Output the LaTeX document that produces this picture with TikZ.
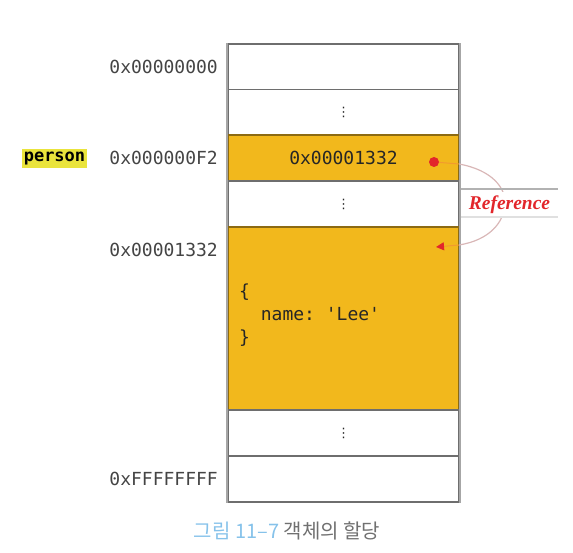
\documentclass[tikz,border=0pt]{standalone}
\usepackage{fontspec}
\setmonofont{DejaVu Sans Mono}
\newfontfamily\krfont{Noto Sans CJK KR}
\newfontfamily\reffont{Liberation Serif}
\newfontfamily\symfont{DejaVu Sans}
\usetikzlibrary{arrows.meta}
\definecolor{gold}{HTML}{F2B81C}
\definecolor{goldedge}{HTML}{8C6A12}
\definecolor{celledge}{HTML}{6E6E6E}
\definecolor{sideedge}{HTML}{A6A6A6}
\definecolor{addr}{HTML}{444444}
\definecolor{hl}{HTML}{EAE43C}
\definecolor{refred}{HTML}{E2262B}
\definecolor{linkorange}{HTML}{F29A2E}
\definecolor{linkpink}{HTML}{D9B7B7}
\definecolor{capblue}{HTML}{86C2EA}
\definecolor{capgray}{HTML}{707070}
\tikzset{
  mono/.style={font=\ttfamily\fontsize{18}{23}\selectfont},
  cellw/.style={draw=celledge, line width=1.6pt, fill=white, minimum width=231pt, minimum height=46pt, inner sep=0pt, mono},
  cellg/.style={draw=goldedge, line width=1.6pt, fill=gold, minimum width=231pt, minimum height=46pt, inner sep=0pt, mono, text=black!85},
  addrlabel/.style={anchor=east, mono, text=addr, inner sep=0pt},
  side/.style={draw=sideedge, line width=2pt},
  link/.style={draw=linkorange, line width=1pt},
  curve/.style={draw=linkpink, line width=1.2pt},
  reflines/.style={line width=1.5pt},
  dots/.style={font=\symfont\fontsize{13}{13}\selectfont, text=black!85},
}
\begin{document}
\begin{tikzpicture}[x=1pt,y=-1pt]
\useasboundingbox (0,0) rectangle (573,553);
% memory cells
\node[cellw] (r0) at (343.5,67) {};
\node[cellw, dots] (r1) at (343.5,112.5) {⋮};
\node[cellg] (r2) at (343.5,158) {0x00001332};
\node[cellw, dots] (r3) at (343.5,204) {⋮};
\node[cellg, minimum height=183pt] (obj) at (343.5,318.5) {};
\node[cellw, dots] (r5) at (343.5,433) {⋮};
\node[cellw] (r6) at (343.5,479) {};
% sides
\draw[side] (r0.north west) -- (r6.south west);
\draw[side] (r0.north east) -- (r6.south east);
% object text
\node[mono, anchor=north west, align=left, inner sep=0pt, text=black!85] (objtext) at (239,284)
  {\{\\\ \ name:\ 'Lee'\\\}};
% address labels
\node[addrlabel] (a0) at (218,67) {0x00000000};
\node[addrlabel] (a2) at (218,158) {0x000000F2};
\node[addrlabel] (a4) at (218,250) {0x00001332};
\node[addrlabel] (a6) at (218,479) {0xFFFFFFFF};
\node[fill=hl, inner xsep=2pt, inner ysep=3pt, font=\ttfamily\bfseries\fontsize{17}{17}\selectfont] (person) at (54.5,158.5) {person};
% reference link
\node[circle, fill=refred, inner sep=0pt, minimum size=10pt] (dot) at (434,162) {};
\coordinate (c1) at (459,164);
\coordinate (c2) at (459,245);
\coordinate (tip) at (436,247);
\draw[curve] (c1) .. controls (492,170) and (506,188) .. (505,204) .. controls (504,222) and (490,240) .. (c2);
\node[fill=white, minimum width=97pt, minimum height=26pt, inner sep=0pt, text=refred, font=\reffont\bfseries\itshape\fontsize{19.5}{19.5}\selectfont] (ref) at (509.5,205) {Reference};
\draw[reflines, draw=black!30] ([yshift=3pt]ref.north west) -- ([yshift=3pt]ref.north east);
\draw[reflines, draw=black!12] ([yshift=1pt]ref.south west) -- ([yshift=1pt]ref.south east);
\draw[link] (dot) -- (c1);
\draw[link, -{Triangle[length=8pt, width=8pt, fill=refred, color=refred]}] (c2) -- (tip);
% caption
\node[font=\krfont\fontsize{20}{20}\selectfont, text=capgray] (cap) at (287,531) {\textcolor{capblue}{그림 11–7} 객체의 할당};
\end{tikzpicture}
\end{document}
